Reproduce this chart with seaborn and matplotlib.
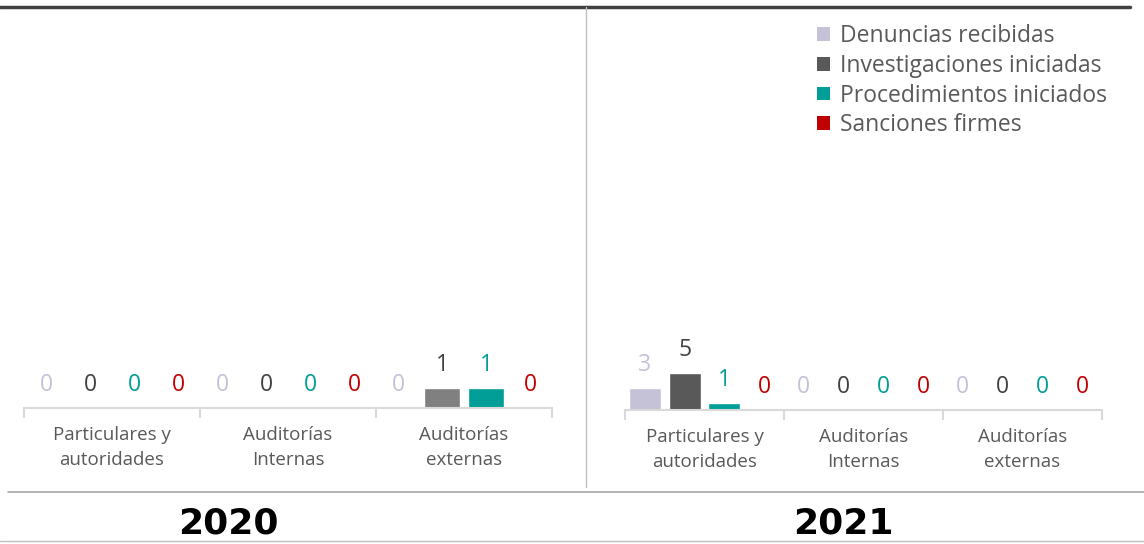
import pandas as pd
import seaborn as sns
import matplotlib.pyplot as plt
from matplotlib.lines import Line2D
from matplotlib.patches import Patch

# Datos
categorias = ["Particulares y\nautoridades", "Auditorías\nInternas", "Auditorías\nexternas"]
series = ["Denuncias recibidas", "Investigaciones iniciadas",
          "Procedimientos iniciados", "Sanciones firmes"]

denuncias_2020 = [0, 0, 0]
investigaciones_2020 = [0, 0, 1]
procedimientos_2020 = [0, 0, 1]
sanciones_2020 = [0, 0, 0]

denuncias_2021 = [3, 0, 0]
investigaciones_2021 = [5, 0, 0]
procedimientos_2021 = [1, 0, 0]
sanciones_2021 = [0, 0, 0]

colores_2020 = ["#C5C1D6", "#808080", "#009E96", "#C00000"]
colores_2021 = ["#C5C1D6", "#595959", "#009E96", "#C00000"]
colores_texto = ["#C5C1D6", "#404040", "#009E96", "#C00000"]


def armar_df(listas):
    filas = []
    for serie, valores in zip(series, listas):
        for cat, v in zip(categorias, valores):
            filas.append({"Categoria": cat, "Serie": serie, "Valor": v})
    return pd.DataFrame(filas)


df_2020 = armar_df([denuncias_2020, investigaciones_2020, procedimientos_2020, sanciones_2020])
df_2021 = armar_df([denuncias_2021, investigaciones_2021, procedimientos_2021, sanciones_2021])

sns.set_style("white")
plt.rcParams['font.family'] = ['Open Sans', 'DejaVu Sans']

W, H = 1144, 544
fig = plt.figure(figsize=(W / 100, H / 100), dpi=100)


def px_axes(x0, x1, y_top, y_base):
    return fig.add_axes([x0 / W, 1 - y_base / H, (x1 - x0) / W, (y_base - y_top) / H])


ax1 = px_axes(24, 552, 20, 408)
ax2 = px_axes(625, 1102, 20, 410)

for ax, df, colores, ymax in [(ax1, df_2020, colores_2020, 19.4),
                              (ax2, df_2021, colores_2021, 53)]:
    sns.barplot(data=df, x="Categoria", y="Valor", hue="Serie", order=categorias,
                hue_order=series, palette=dict(zip(series, colores)), saturation=1,
                width=1.0, gap=0.2, ax=ax, legend=False)
    for cont, col in zip(ax.containers, colores_texto):
        ax.bar_label(cont, fmt="%d", padding=8, color=col, fontsize=16.5)
    ax.set_xlim(-0.5, 2.5)
    ax.set_ylim(0, ymax)
    ax.set_xlabel("")
    ax.set_ylabel("")
    ax.set_yticks([])
    for s in ["top", "left", "right"]:
        ax.spines[s].set_visible(False)
    ax.spines["bottom"].set_color("#D9D9D9")
    ax.spines["bottom"].set_linewidth(1.5)
    ax.set_xticks([0, 1, 2])
    ax.set_xticklabels(categorias, fontsize=13.5, color="#595959", linespacing=1.5)
    ax.set_xticks([-0.5, 0.5, 1.5, 2.5], minor=True)
    ax.tick_params(axis="x", which="major", length=0, pad=13)
    ax.tick_params(axis="x", which="minor", bottom=True, length=7, width=1.5,
                   color="#D9D9D9", direction="out")

# Líneas de marco
def linea(x0, y0, x1, y1, color, lw):
    fig.add_artist(Line2D([x0 / W, x1 / W], [1 - y0 / H, 1 - y1 / H],
                          color=color, linewidth=lw))

linea(0, 7, 1130, 7, "#404040", 2.5)
linea(586, 7, 586, 487, "#BFBFBF", 1)
linea(8, 492, 1144, 492, "#A6A6A6", 1.2)
linea(0, 541, 1144, 541, "#BFBFBF", 1)

# Años
fig.text(228 / W, 1 - 523 / H, "2020", ha="center", va="center", fontsize=26,
         fontweight="bold", family="DejaVu Sans", color="black")
fig.text(843 / W, 1 - 523 / H, "2021", ha="center", va="center", fontsize=26,
         fontweight="bold", family="DejaVu Sans", color="black")

# Leyenda
handles = [Patch(facecolor=c, edgecolor="none") for c in colores_2021]
fig.legend(handles, series, loc="upper left", bbox_to_anchor=(808 / W, 1 - 15 / H),
           frameon=False, fontsize=16.5, labelcolor="#595959", handlelength=0.55,
           handleheight=0.55, handletextpad=0.45, labelspacing=0.25, borderaxespad=0)

fig.savefig("out.png", dpi=100)
